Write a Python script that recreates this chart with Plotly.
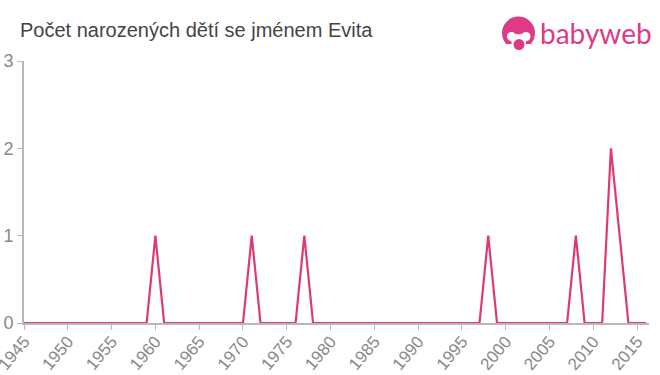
import plotly.graph_objects as go

years = list(range(1945, 2017))
peaks = {1960: 1, 1971: 1, 1977: 1, 1998: 1, 2008: 1, 2012: 2, 2013: 1}
counts = [peaks.get(y, 0) for y in years]
title_text = "Počet narozených dětí se jménem Evita"
logo_text = "babyweb"
x_ticks = list(range(1945, 2016, 5))
y_ticks = [0, 1, 2, 3]

W, H = 660, 375
L, R, T, B = 24, 649, 61, 323.5
PINK = "#dd3a87"
GREY = "#b8b8b8"
TXT = "#888888"


def sx(x):
    return (x - L) / (R - L)


def sy(y):
    return (B - y) / (B - T)


fig = go.Figure(go.Scatter(x=years, y=counts, mode="lines",
                           line=dict(color="#e0396f", width=2.2, shape="linear"),
                           cliponaxis=False, hoverinfo="skip"))

x_font = dict(family="Liberation Sans, Arial, sans-serif", size=17, color=TXT)
y_font = dict(family="Liberation Sans, Arial, sans-serif", size=18, color=TXT)
fig.update_layout(
    width=W, height=H, autosize=False,
    margin=dict(l=L, r=W - R, t=T, b=H - B, pad=0, autoexpand=False),
    paper_bgcolor="white", plot_bgcolor="white", showlegend=False,
    xaxis=dict(range=[1945, 2016.35], tickmode="array", tickvals=x_ticks, automargin=False,
               ticktext=[str(v) for v in x_ticks], tickangle=-50, tickfont=x_font,
               ticklabeloverflow="allow", ticklabelstandoff=-5,
               ticks="outside", ticklen=5, tickwidth=1, tickcolor=GREY,
               showline=True, linecolor=GREY, linewidth=2, showgrid=False, zeroline=False),
    yaxis=dict(range=[0, 3], tickmode="array", tickvals=y_ticks, automargin=False,
               ticktext=[str(v) for v in y_ticks], tickfont=y_font,
               ticks="outside", ticklen=5, tickwidth=1, tickcolor=GREY,
               showline=True, linecolor=GREY, linewidth=2, showgrid=False, zeroline=False),
    annotations=[
        dict(text=title_text, xref="paper", yref="paper",
             x=sx(18), y=sy(30), xanchor="left", yanchor="middle", showarrow=False,
             font=dict(family="Liberation Sans, Arial, sans-serif", size=20, color="#444444")),
        dict(text=logo_text, xref="paper", yref="paper",
             x=sx(538), y=sy(33), xanchor="left", yanchor="middle", showarrow=False,
             font=dict(family="Lato, sans-serif", size=28, color=PINK)),
    ],
)


def circle(cx, cy, r, color):
    fig.add_shape(type="circle", xref="paper", yref="paper",
                  x0=sx(cx - r), x1=sx(cx + r), y0=sy(cy + r), y1=sy(cy - r),
                  fillcolor=color, line=dict(width=0), layer="above")


circle(518.5, 33, 16.5, PINK)
fig.add_shape(type="rect", xref="paper", yref="paper", x0=sx(500), x1=sx(537),
              y0=sy(52), y1=sy(44), fillcolor="white", line=dict(width=0), layer="above")
circle(511.5, 36.5, 4.5, "white")
circle(526, 36.5, 4.5, "white")
circle(518.7, 41, 7.5, "white")
fig.add_shape(type="path", xref="paper", yref="paper", layer="above",
              path=f"M {sx(515)} {sy(31)} L {sx(522)} {sy(31)} L {sx(518.7)} {sy(35)} Z",
              fillcolor=PINK, line=dict(width=0))
circle(519, 44.5, 5.5, PINK)

fig.write_html("out.html", config={"displayModeBar": False},
               post_script="document.body.style.margin='0';document.body.style.overflow='hidden';")
